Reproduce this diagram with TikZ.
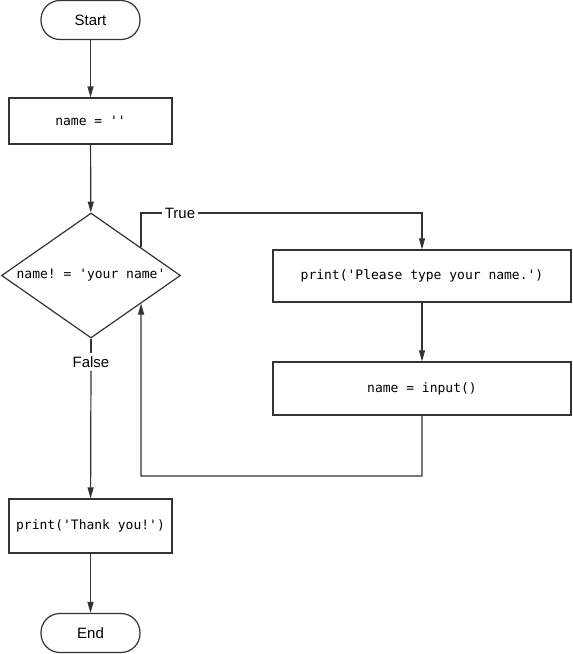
\documentclass[tikz,border=0pt]{standalone}
\usepackage{fontspec}
\setsansfont{Liberation Sans}
\setmonofont{DejaVu Sans Mono}
\usepackage{tikz}
\usetikzlibrary{arrows.meta,shapes.geometric,calc}
\newcommand{\codefont}{\fontsize{13}{15}\selectfont\ttfamily}
\newcommand{\labelfont}{\fontsize{15}{17}\selectfont\sffamily}

\begin{document}
\begin{tikzpicture}[
  x=1pt, y=-1pt,
  line/.style={draw=black!80, line width=1.2pt},
  arr/.style={line, -{Triangle[length=11pt, width=6pt]}},
  term/.style={line, rounded corners=19pt, minimum width=99pt,
               minimum height=39pt, font=\labelfont},
  proc/.style={line, minimum height=47pt, font=\codefont},
  decide/.style={line, diamond, shape aspect=1.43, inner sep=0pt,
                 minimum width=179pt, minimum height=125pt, font=\codefont},
  lbl/.style={font=\labelfont, inner sep=3pt}
]
  \useasboundingbox (0,0) rectangle (573,654);

  % left column
  \node[term] (start) at (90.5,20) {Start};
  \node[proc, minimum width=163pt, minimum height=46pt] (init) at (90.5,121) {name = ''};
  \node[decide] (check) at (91,275.5) {name! = 'your name'};
  \node[lbl] (falselbl) at (91,362) {False};
  \node[proc, minimum width=163pt, minimum height=54pt] (thanks) at (90.5,526) {print('Thank you!')};
  \node[term] (end) at (90.5,633) {End};

  % right column (loop body)
  \node[proc, minimum width=298pt, minimum height=52pt] (ask) at (422,276) {print('Please type your name.')};
  \node[proc, minimum width=298pt, minimum height=53pt] (input) at (422,388.5) {name = input()};

  % points on the diamond for the loop
  \coordinate (tp) at ($(check.north)!0.556!(check.east)$);
  \coordinate (bp) at ($(check.south)!0.556!(check.east)$);
  \coordinate (loop) at (141,476);
  \node[lbl] (truelbl) at (180,213) {True};

  \draw[arr] (start) -- (init);
  \draw[arr] (init) -- (check);
  \draw[line] (tp) |- (truelbl);
  \draw[arr] (truelbl) -| (ask);
  \draw[arr] (ask) -- (input);
  \draw[arr] (input) |- (loop) -- (bp);
  \draw[line] (check) -- (falselbl);
  \draw[arr] (falselbl) -- (thanks);
  \draw[arr] (thanks) -- (end);
\end{tikzpicture}
\end{document}
